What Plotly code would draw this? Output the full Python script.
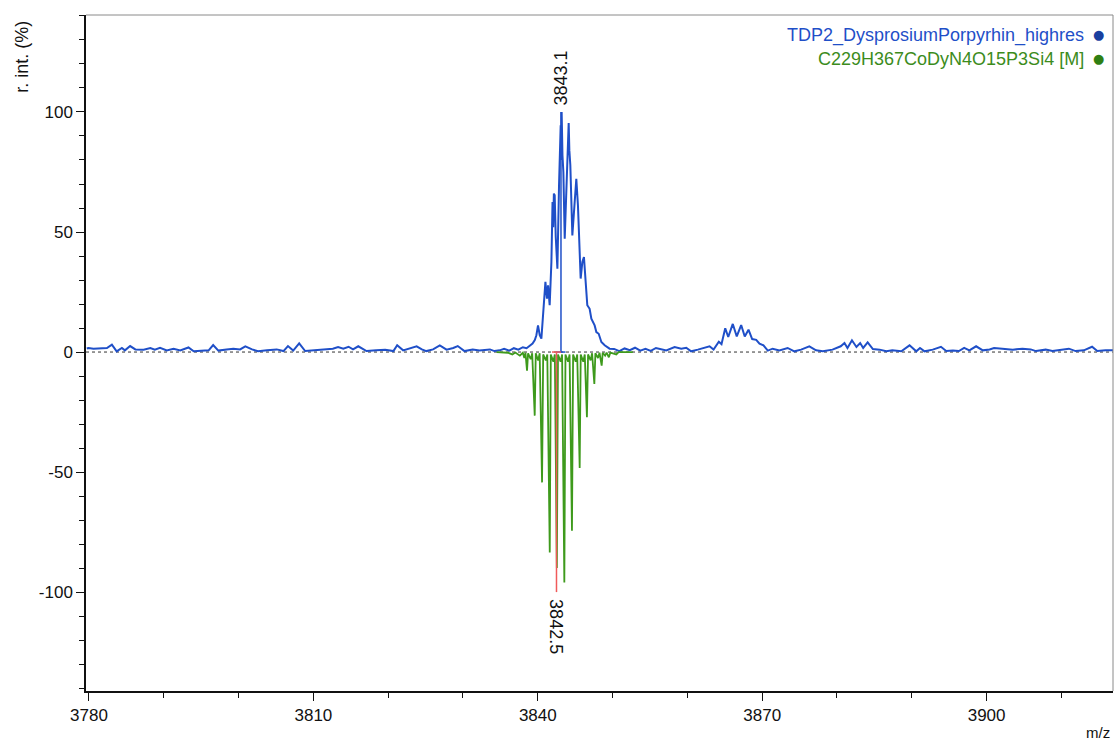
import plotly.graph_objects as go

# ---------------- data ----------------
# measured profile (TDP2_DysprosiumPorpyrhin_highres), m/z and relative intensity (%)
meas_mz = [
    3779.7, 3779.93, 3780.6, 3781.7, 3782.4, 3783.06, 3783.7, 3784.4, 3784.8, 3785.5,
    3786.2, 3787.3, 3788.2, 3788.8, 3789.5, 3790.4, 3791.3, 3792.2, 3793.3, 3794.0,
    3795.3, 3796.0, 3796.6, 3797.3, 3798.4, 3799.3, 3800.2, 3800.9, 3801.8, 3802.6,
    3803.8, 3805.1, 3806.0, 3806.6, 3807.3, 3808.1, 3808.9, 3810.0, 3811.3, 3812.6,
    3813.3, 3814.0, 3814.7, 3815.3, 3816.0, 3817.1, 3818.4, 3819.6, 3820.7, 3821.2,
    3822.0, 3822.9, 3823.8, 3824.5, 3825.1, 3826.0, 3826.9, 3827.8, 3828.7, 3829.3,
    3830.2, 3831.3, 3832.2, 3833.6, 3834.2, 3834.9, 3835.5, 3836.2, 3836.8, 3837.4,
    3838.0, 3838.5, 3838.92, 3839.3, 3839.6, 3839.81, 3840.03, 3840.26, 3840.48, 3840.7,
    3840.88, 3841.02, 3841.23, 3841.37, 3841.59, 3841.82, 3841.97, 3842.06, 3842.15, 3842.26,
    3842.4, 3842.48, 3842.62, 3842.84, 3842.98, 3843.06, 3843.12, 3843.19, 3843.3, 3843.42,
    3843.6, 3843.82, 3844.0, 3844.13, 3844.22, 3844.35, 3844.62, 3844.84, 3845.0, 3845.15,
    3845.37, 3845.6, 3845.73, 3845.96, 3846.17, 3846.4, 3846.62, 3846.93, 3847.16, 3847.6,
    3847.83, 3848.14, 3848.5, 3848.94, 3849.6, 3850.2, 3850.9, 3851.6, 3852.3, 3853.0,
    3853.7, 3854.4, 3855.1, 3855.8, 3856.28, 3857.18, 3858.29, 3859.18, 3859.85, 3860.5,
    3861.4, 3862.3, 3862.96, 3863.5, 3864.2, 3864.56, 3865.06, 3865.46, 3866.07, 3866.6,
    3867.19, 3867.67, 3868.17, 3868.66, 3869.2, 3869.64, 3870.17, 3870.75, 3871.4, 3872.3,
    3873.4, 3874.3, 3875.2, 3876.3, 3877.2, 3878.1, 3879.4, 3880.5, 3881.0, 3881.4,
    3882.0, 3882.6, 3883.1, 3883.5, 3884.1, 3884.8, 3885.7, 3886.6, 3887.4, 3888.6,
    3889.7, 3890.6, 3891.1, 3891.7, 3892.8, 3893.9, 3894.6, 3895.5, 3896.3, 3897.0,
    3897.7, 3898.6, 3899.5, 3900.4, 3901.0, 3902.1, 3903.5, 3904.8, 3905.9, 3906.6,
    3907.9, 3908.8, 3909.9, 3911.0, 3911.9, 3913.0, 3914.1, 3914.8, 3915.9, 3916.9,
]
meas_int = [
    1.5, 1.7, 1.4, 1.4, 1.7, 3.1, 0.3, 1.7, 0.7, 2.5,
    1.1, 1.0, 1.7, 1.0, 1.8, 0.7, 1.4, 0.7, 1.9, 0.3,
    0.7, 0.7, 2.9, 0.6, 1.1, 1.4, 1.1, 2.4, 1.1, 0.3,
    0.7, 1.1, 0.4, 2.5, 0.6, 3.6, 0.4, 0.7, 1.0, 1.4,
    2.1, 1.4, 2.2, 1.1, 2.4, 0.4, 0.7, 1.0, 0.4, 2.8,
    0.7, 1.4, 2.4, 1.1, 0.4, 1.1, 2.8, 1.0, 1.7, 2.5,
    0.4, 1.1, 0.6, 1.1, 0.4, 0.7, 1.3, 0.6, 1.6, 1.0,
    2.0, 1.6, 2.8, 3.5, 5.0, 7.0, 11.1, 7.0, 5.6, 13.9,
    21.0, 29.2, 22.2, 27.8, 19.5, 37.5, 62.5, 52.0, 66.0, 65.3,
    48.0, 41.7, 34.7, 69.5, 88.0, 94.5, 80.0, 100.0, 82.0, 75.0,
    47.2, 66.7, 86.0, 95.4, 84.0, 77.8, 48.6, 57.0, 66.0, 72.2,
    61.0, 36.0, 30.6, 37.5, 39.6, 29.2, 19.5, 18.0, 13.9, 11.1,
    8.3, 7.6, 4.2, 2.8, 1.4, 1.3, 0.4, 1.5, 0.8, 1.8,
    0.6, 1.3, 0.5, 1.7, 1.25, 0.7, 2.1, 1.4, 1.8, 0.3,
    1.0, 1.7, 2.4, 1.0, 4.3, 3.3, 9.9, 6.25, 11.7, 6.5,
    11.25, 6.5, 9.3, 5.4, 5.1, 3.5, 2.8, 0.6, 1.4, 0.7,
    1.7, 0.3, 1.0, 2.4, 0.7, 0.3, 1.0, 2.4, 3.75, 1.7,
    4.9, 2.1, 3.75, 1.7, 4.0, 1.25, 1.0, 0.3, 0.7, 0.3,
    2.8, 0.3, 1.7, 0.3, 1.0, 2.2, 0.4, 0.6, 0.4, 1.7,
    0.7, 2.4, 0.7, 1.1, 1.7, 1.4, 1.0, 1.4, 1.1, 0.4,
    1.0, 0.4, 1.0, 1.4, 0.4, 0.7, 2.2, 0.4, 0.7, 0.7,
]

# simulated isotope pattern C229H367CoDyN4O15P3Si4 [M] (drawn mirrored, negative)
sim_mz = [
    3834.5, 3836.0, 3836.6, 3837.0, 3837.6, 3838.0, 3838.2, 3838.35, 3838.48, 3838.56,
    3838.7, 3839.05, 3839.25, 3839.47, 3839.59, 3839.73, 3840.05, 3840.25, 3840.45, 3840.57,
    3840.72, 3841.07, 3841.27, 3841.47, 3841.6, 3841.74, 3842.08, 3842.28, 3842.42, 3842.55,
    3842.7, 3843.05, 3843.25, 3843.42, 3843.55, 3843.7, 3844.05, 3844.25, 3844.47, 3844.57,
    3844.72, 3845.07, 3845.27, 3845.48, 3845.6, 3845.74, 3846.08, 3846.28, 3846.47, 3846.57,
    3846.72, 3847.06, 3847.26, 3847.46, 3847.56, 3847.7, 3848.05, 3848.25, 3848.45, 3848.54,
    3848.68, 3849.0, 3849.2, 3849.5, 3849.7, 3850.5, 3850.8, 3852.7,
]
sim_int = [
    0.0, -0.3, -1.0, -0.2, -1.5, -0.3, -2.5, -0.3, -5.0, -7.8,
    -0.5, -3.0, -0.5, -20.0, -26.5, -0.5, -3.5, -0.5, -40.0, -54.3,
    -1.0, -3.5, -1.0, -62.0, -83.5, -1.0, -4.0, -1.0, -73.0, -90.0,
    -1.0, -4.0, -1.0, -68.0, -96.0, -1.0, -4.0, -1.0, -50.0, -74.4,
    -1.0, -4.0, -1.0, -32.0, -48.3, -1.0, -4.0, -1.0, -20.0, -27.2,
    -1.0, -3.5, -0.5, -9.0, -13.3, -0.5, -2.5, -0.3, -4.0, -5.7,
    -0.3, -1.5, -0.2, -2.2, -0.2, -1.0, 0.0, 0.0,
]

# labelled peaks
meas_peak_mz, meas_peak_int, meas_peak_label = 3843.1, 100.0, "3843.1"
sim_peak_mz, sim_peak_int, sim_peak_label = 3842.5, -100.0, "3842.5"

meas_name = "TDP2_DysprosiumPorpyrhin_highres"
sim_name = "C229H367CoDyN4O15P3Si4 [M]"

x_range = [3779.6, 3916.9]
y_range = [-141.2, 140.4]
x_tickvals = [3780, 3810, 3840, 3870, 3900]
x_ticktext = ["3780", "3810", "3840", "3870", "3900"]
y_tickvals = [100, 50, 0, -50, -100]
y_ticktext = ["100", "50", "0", "-50", "-100"]

# ---------------- styling ----------------
BLUE = "#1f4fc8"
BLUE_DARK = "#1a3f9f"
GREEN = "#3e9a1c"
GREEN_TXT = "#3c8c1c"
RED = "#f05a5a"
FONT = "Liberation Sans, Arial, sans-serif"
BAR_HALF = 0.6

fig = go.Figure()

fig.add_trace(go.Scatter(x=meas_mz, y=meas_int, mode="lines",
                         line=dict(color=BLUE, width=2), hoverinfo="skip"))
fig.add_trace(go.Scatter(x=sim_mz, y=sim_int, mode="lines",
                         line=dict(color=GREEN, width=1.8), hoverinfo="skip"))

# peak sticks with small base bar
fig.add_trace(go.Scatter(
    x=[meas_peak_mz, meas_peak_mz, None, meas_peak_mz - BAR_HALF, meas_peak_mz + BAR_HALF],
    y=[0, meas_peak_int, None, 0, 0],
    mode="lines", line=dict(color=BLUE, width=1.5), hoverinfo="skip"))
fig.add_trace(go.Scatter(
    x=[sim_peak_mz, sim_peak_mz, None, sim_peak_mz - BAR_HALF, sim_peak_mz + BAR_HALF],
    y=[0, sim_peak_int, None, 0, 0],
    mode="lines", line=dict(color=RED, width=1.5), hoverinfo="skip"))

# dotted zero line
fig.add_shape(type="line", xref="paper", yref="y", x0=0, x1=1, y0=0, y1=0,
              line=dict(color="#333333", width=1, dash="dot"), layer="below")
# top and right frame
fig.add_shape(type="line", xref="paper", yref="paper", x0=0, x1=1, y0=1, y1=1,
              line=dict(color="#8a8a8a", width=1))
fig.add_shape(type="line", xref="paper", yref="paper", x0=1, x1=1, y0=0, y1=1,
              line=dict(color="#8a8a8a", width=1))

ann = []
ann.append(dict(x=meas_peak_mz, y=meas_peak_int, xref="x", yref="y", text=meas_peak_label,
                textangle=-90, showarrow=False, xanchor="center", yanchor="bottom", yshift=5,
                font=dict(family=FONT, size=18, color="#111111")))
ann.append(dict(x=sim_peak_mz, y=sim_peak_int, xref="x", yref="y", text=sim_peak_label,
                textangle=90, showarrow=False, xanchor="center", yanchor="top", yshift=-5,
                font=dict(family=FONT, size=18, color="#111111")))
# axis titles
ann.append(dict(x=-0.0625, y=1, xref="paper", yref="paper", text="r. int. (%)",
                textangle=-90, showarrow=False, xanchor="center", yanchor="top", yshift=-4,
                font=dict(family=FONT, size=18, color="#111111")))
ann.append(dict(x=0.9995, y=0, xref="paper", yref="paper", text="m/z",
                showarrow=False, xanchor="right", yanchor="top", yshift=-31,
                font=dict(family=FONT, size=15, color="#111111")))
# legend
ann.append(dict(x=0.9737, y=0.9704, xref="paper", yref="paper", text=meas_name,
                showarrow=False, xanchor="right", yanchor="middle",
                font=dict(family=FONT, size=18, color=BLUE)))
ann.append(dict(x=0.9737, y=0.9349, xref="paper", yref="paper", text=sim_name,
                showarrow=False, xanchor="right", yanchor="middle",
                font=dict(family=FONT, size=18, color=GREEN_TXT)))
ann.append(dict(x=0.9856, y=0.9712, xref="paper", yref="paper", text="●",
                showarrow=False, xanchor="center", yanchor="middle",
                font=dict(family="DejaVu Sans", size=13, color=BLUE_DARK)))
ann.append(dict(x=0.9856, y=0.9357, xref="paper", yref="paper", text="●",
                showarrow=False, xanchor="center", yanchor="middle",
                font=dict(family="DejaVu Sans", size=13, color="#2f7f12")))

fig.update_layout(
    width=1114, height=744,
    margin=dict(l=86, r=1, t=15, b=53),
    paper_bgcolor="white", plot_bgcolor="white",
    showlegend=False,
    annotations=ann,
    font=dict(family=FONT, size=17, color="#111111"),
    xaxis=dict(range=x_range, showgrid=False, zeroline=False,
               showline=True, linecolor="#111111", linewidth=1.5,
               tickmode="array", tickvals=x_tickvals, ticktext=x_ticktext,
               ticks="outside", ticklen=8, tickwidth=1, tickcolor="#111111",
               minor=dict(dtick=10, tick0=3780, ticks="outside", ticklen=5,
                          tickwidth=1, tickcolor="#111111", showgrid=False),
               tickfont=dict(family=FONT, size=17, color="#111111")),
    yaxis=dict(range=y_range, showgrid=False, zeroline=False,
               showline=True, linecolor="#111111", linewidth=1.5,
               tickmode="array", tickvals=y_tickvals, ticktext=y_ticktext,
               ticks="outside", ticklen=8, tickwidth=1, tickcolor="#111111",
               minor=dict(dtick=10, tick0=0, ticks="outside", ticklen=5,
                          tickwidth=1, tickcolor="#111111", showgrid=False),
               tickfont=dict(family=FONT, size=17, color="#111111")),
)

# remove the browser's default 8px body margin so the figure fills the window exactly
fig.write_html("out.html",
               config={"displayModeBar": False},
               post_script="document.body.style.margin='0px';"
                           "document.body.style.overflow='hidden';")
